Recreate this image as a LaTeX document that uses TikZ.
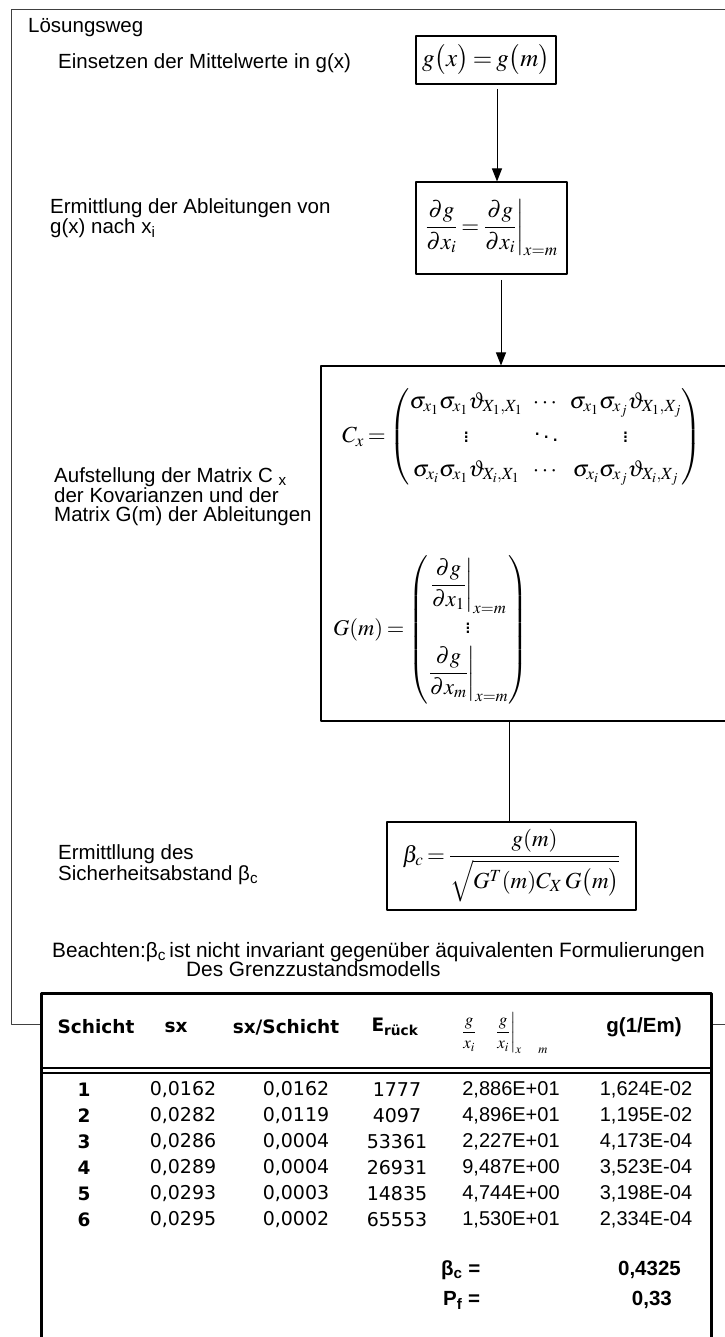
\documentclass[tikz,border=0pt]{standalone}
\usepackage{amsmath}
\usepackage{mathptmx}
\usepackage[no-math]{fontspec}
\setmainfont{Liberation Sans}
\newfontfamily\tahfont{DejaVu Sans}
\usetikzlibrary{arrows.meta}

\tikzset{
  stepbox/.style={draw=black, line width=1.1pt, inner sep=0pt},
  lbl/.style={anchor=base west, inner sep=0pt, align=left, font=\fontsize{20.5}{18.5}\selectfont},
  flow/.style={line width=1pt, -{Triangle[length=13pt,width=10pt]}},
  hd/.style={inner sep=0pt, font=\tahfont\bfseries\fontsize{18.5}{20}\selectfont},
  nr/.style={inner sep=0pt, font=\tahfont\bfseries\fontsize{18.5}{20}\selectfont},
  tv/.style={inner sep=0pt, font=\tahfont\fontsize{19}{20}\selectfont},
  av/.style={inner sep=0pt, font=\fontsize{20}{20}\selectfont},
  ab/.style={inner sep=0pt, font=\bfseries\fontsize{20.5}{20}\selectfont}
}

\begin{document}
\thickmuskip=3mu plus 2mu
\begin{tikzpicture}[x=1pt, y=-1pt, line join=round]
\useasboundingbox (0,0) rectangle (724,1337);
% outer frame
\draw[line width=1pt, black!75] (11.5,10) rectangle (740,1024);
% left labels
\node[lbl] (lsg) at (28,33) {Lösungsweg};
\node[lbl] (t1) at (58,69) {Einsetzen der Mittelwerte in g(x)};
\node[lbl] (t2) at (50,234) {Ermittlung der Ableitungen von\\g(x) nach x\textsubscript{i}};
\node[lbl] (t3) at (54,521) {Aufstellung der Matrix C \textsubscript{x}\\der Kovarianzen und der\\Matrix G(m) der Ableitungen};
\node[lbl] (t4) at (58,880) {Ermittllung des\\Sicherheitsabstand β\textsubscript{c}};
\node[lbl, font=\fontsize{20.8}{18.5}\selectfont] (hint) at (52,957) {Beachten:β\textsubscript{c}\,ist nicht invariant gegenüber äquivalenten Formulierungen};
\node[lbl, font=\fontsize{20.8}{18.5}\selectfont] (hint2) at (186,976) {Des Grenzzustandsmodells};
% boxes
\node[stepbox, minimum width=140pt, minimum height=48pt, font=\fontsize{25}{28}\selectfont] (gx) at (486,60) {$g\bigl(x\bigr)=g\bigl(m\bigr)$};
\node[stepbox, minimum width=151pt, minimum height=92pt, font=\fontsize{23}{28}\selectfont] (abl) at (491.5,228)
  {$\dfrac{\partial g}{\partial x_i}=\left.\dfrac{\partial g}{\partial x_i}\right|_{x=m}$};
\node[stepbox, minimum width=419pt, minimum height=355pt] (kov) at (530.5,543.5) {};
\node[inner sep=0pt, font=\fontsize{23}{28}\selectfont] (cx) at (522,437)
  {$C_x=\begin{pmatrix}\sigma_{x_1}\sigma_{x_1}\vartheta_{X_1,X_1} & \cdots & \sigma_{x_1}\sigma_{x_j}\vartheta_{X_1,X_j}\\[6pt] \vdots & \ddots & \vdots\\[6pt] \sigma_{x_i}\sigma_{x_1}\vartheta_{X_i,X_1} & \cdots & \sigma_{x_i}\sigma_{x_j}\vartheta_{X_i,X_j}\end{pmatrix}$};
\node[inner sep=0pt, anchor=west, font=\fontsize{22.5}{28}\selectfont] (gm) at (333,630)
  {$G(m)=\begin{pmatrix}\left.\dfrac{\partial g}{\partial x_1}\right|_{x=m}\\[5pt] \vdots\\[5pt] \left.\dfrac{\partial g}{\partial x_m}\right|_{x=m}\end{pmatrix}$};
\node[stepbox, minimum width=249pt, minimum height=88pt, font=\fontsize{23}{28}\selectfont] (beta) at (511.5,866)
  {$\beta_c=\dfrac{g(m)}{\sqrt{G^T(m)C_X\,G\bigl(m\bigr)}}$};
% connectors
\coordinate (a1) at (497,89);
\coordinate (a2) at (501,280);
\coordinate (a3) at (509,0);
\draw[flow] (a1) -- (a1 |- abl.north);
\draw[flow] (a2) -- (a2 |- kov.north);
\draw[line width=1pt] (kov.south -| a3) -- (beta.north -| a3);
% table
\fill[white] (41.5,993) rectangle (711.5,1345);
\draw[line width=3pt] (41.5,1345) -- (41.5,993) -- (711.5,993) -- (711.5,1345);
\draw[line width=1.3pt] (41.5,1068) -- (711.5,1068);
\draw[line width=1.3pt] (41.5,1073) -- (711.5,1073);
\node[hd] (h1) at (96,1027) {Schicht};
\node[hd] (h2) at (176,1027) {sx};
\node[hd] (h3) at (286,1027) {sx/Schicht};
\node[hd] (h4) at (395,1027) {E\textsubscript{rück}};
\node[inner sep=0pt, font=\fontsize{17}{20}\selectfont] (h5) at (505,1033)
  {$\dfrac{g}{x_i}\quad\left.\dfrac{g}{x_i}\right|_{x\quad m}$};
\node[ab] (h6) at (644,1027) {g(1/Em)};
% rows
\node[nr] (n1) at (84,1090) {1};
\node[tv] (sa1) at (183,1090) {0,0162};
\node[tv] (sb1) at (296,1090) {0,0162};
\node[tv] (e1) at (397,1090) {1777};
\node[av] (d1) at (511,1090) {2,886E+01};
\node[av] (g1) at (646,1090) {1,624E-02};
\node[nr] (n2) at (84,1116) {2};
\node[tv] (sa2) at (183,1116) {0,0282};
\node[tv] (sb2) at (296,1116) {0,0119};
\node[tv] (e2) at (397,1116) {4097};
\node[av] (d2) at (511,1116) {4,896E+01};
\node[av] (g2) at (646,1116) {1,195E-02};
\node[nr] (n3) at (84,1142) {3};
\node[tv] (sa3) at (183,1142) {0,0286};
\node[tv] (sb3) at (296,1142) {0,0004};
\node[tv] (e3) at (397,1142) {53361};
\node[av] (d3) at (511,1142) {2,227E+01};
\node[av] (g3) at (646,1142) {4,173E-04};
\node[nr] (n4) at (84,1168) {4};
\node[tv] (sa4) at (183,1168) {0,0289};
\node[tv] (sb4) at (296,1168) {0,0004};
\node[tv] (e4) at (397,1168) {26931};
\node[av] (d4) at (511,1168) {9,487E+00};
\node[av] (g4) at (646,1168) {3,523E-04};
\node[nr] (n5) at (84,1194) {5};
\node[tv] (sa5) at (183,1194) {0,0293};
\node[tv] (sb5) at (296,1194) {0,0003};
\node[tv] (e5) at (397,1194) {14835};
\node[av] (d5) at (511,1194) {4,744E+00};
\node[av] (g5) at (646,1194) {3,198E-04};
\node[nr] (n6) at (84,1220) {6};
\node[tv] (sa6) at (183,1220) {0,0295};
\node[tv] (sb6) at (296,1220) {0,0002};
\node[tv] (e6) at (397,1220) {65553};
\node[av] (d6) at (511,1220) {1,530E+01};
\node[av] (g6) at (646,1220) {2,334E-04};
\node[ab, anchor=west] (bc) at (441,1270) {β\textsubscript{c} =};
\node[ab, anchor=east] (bcv) at (681,1270) {0,4325};
\node[ab, anchor=west] (pf) at (443,1300) {P\textsubscript{f} =};
\node[ab, anchor=east] (pfv) at (672,1300) {0,33};
\end{tikzpicture}
\end{document}
